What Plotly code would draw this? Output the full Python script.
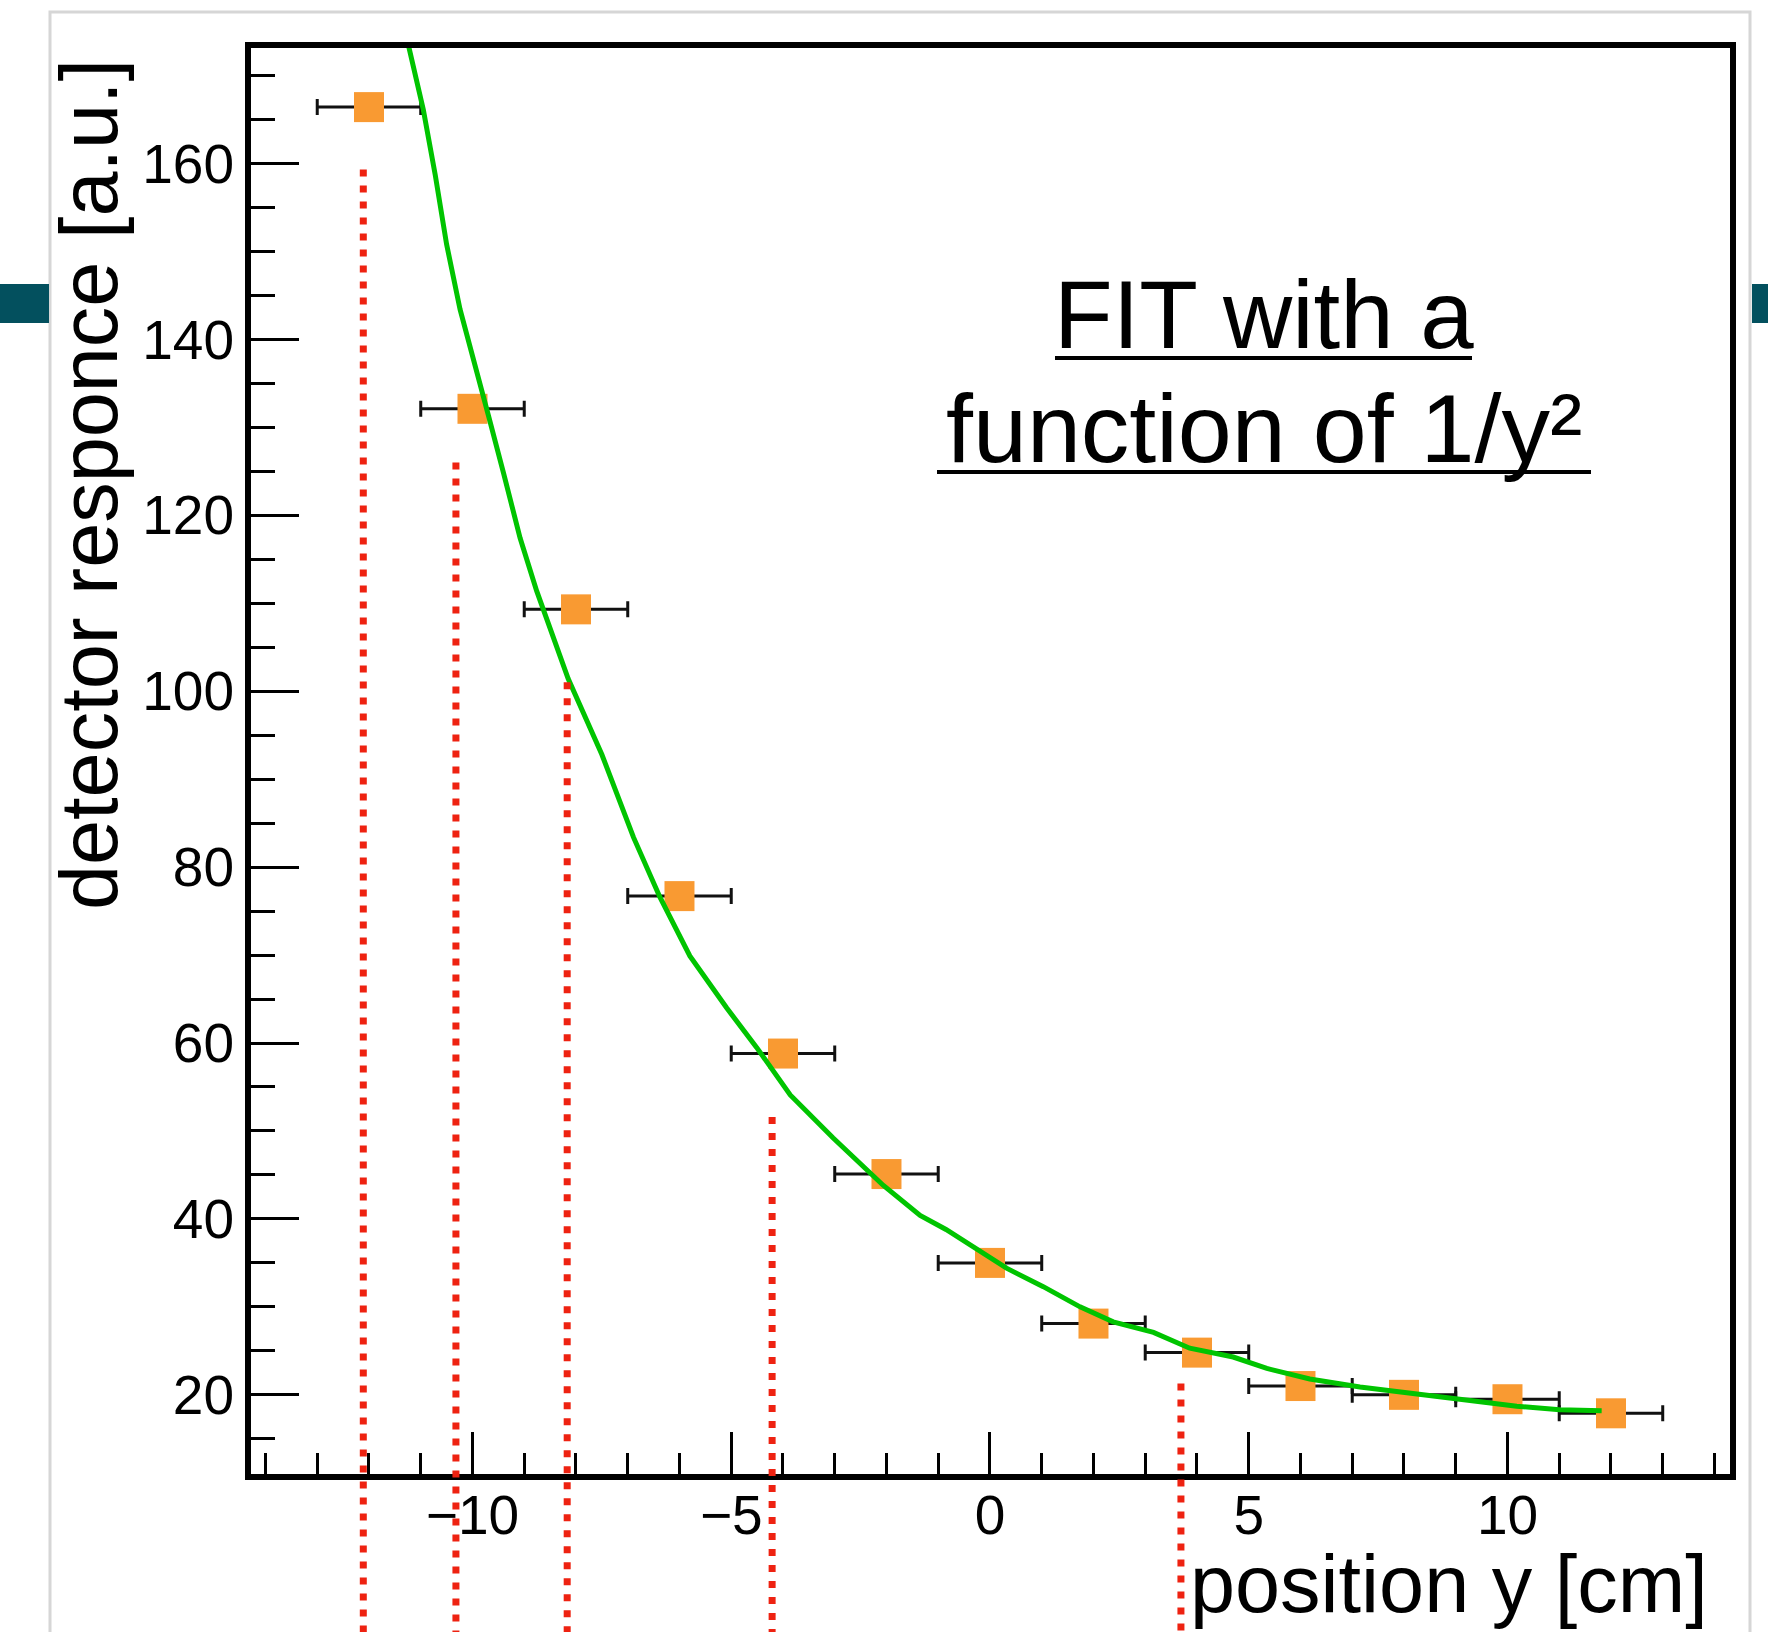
import plotly.graph_objects as go

# ---------------- data ----------------
pos_y = [-12, -10, -8, -6, -4, -2, 0, 2, 4, 6, 8, 10, 12]
response = [166.4, 132.1, 109.3, 76.7, 58.8, 45.1, 35.0, 28.1, 24.8, 21.0, 20.0, 19.5, 17.9]
pos_err = [1.0, 1.0, 1.0, 1.0, 1.0, 1.0, 1.0, 1.0, 1.0, 1.0, 1.0, 1.0, 1.0]

fit_x = [-11.26, -10.95, -10.72, -10.50, -10.24, -9.98, -9.69, -9.40, -9.08, -8.76,
         -8.44, -8.15, -7.50, -6.89, -6.38, -5.80, -5.09, -4.51, -3.86, -3.03,
         -2.06, -1.35, -0.85, -0.32, 0.32, 1.03, 1.74, 2.38, 3.16, 3.86,
         4.70, 5.35, 6.18, 7.15, 8.11, 9.21, 10.18, 11.01, 11.82]
fit_y = [174.0, 166.1, 158.7, 150.8, 143.4, 137.9, 131.3, 124.8, 117.4, 111.4,
         106.3, 101.4, 92.8, 83.4, 76.6, 69.9, 64.0, 59.5, 54.1, 49.2,
         43.8, 40.4, 38.8, 36.8, 34.4, 32.3, 30.0, 28.3, 27.1, 25.3,
         24.3, 23.0, 21.8, 20.9, 20.2, 19.4, 18.7, 18.3, 18.2]

guide_x = [-12.11, -10.32, -8.17, -4.21, 3.69]
guide_top = [159.3, 126.0, 101.0, 51.6, 21.3]

X_RANGE = [-14.28, 14.30]
Y_RANGE = [11.0, 173.12]

# ---------------- layout geometry (pixels) ----------------
W, H = 1768, 1632
PL, PR, PT, PB = 251, 1730, 48, 1474
FONT = "Liberation Sans, Arial, Helvetica, sans-serif"


def px_x(p):
    return (p - PL) / (PR - PL)


def px_y(p):
    return (H - p) / (H - PT)


y_dom0 = (H - PB) / (H - PT)
y_span = Y_RANGE[1] - Y_RANGE[0]
y2_min = Y_RANGE[0] - y_dom0 / (1 - y_dom0) * y_span
Y2_RANGE = [y2_min, Y_RANGE[1]]

fig = go.Figure()

# data points with horizontal error bars
fig.add_trace(go.Scatter(
    x=pos_y, y=response, mode="markers",
    marker=dict(symbol="square", size=30, color="#f99a32", line=dict(width=0)),
    error_x=dict(type="data", array=pos_err, color="#111111", thickness=3, width=8),
    xaxis="x", yaxis="y", showlegend=False, hoverinfo="skip",
))

# fit curve
fig.add_trace(go.Scatter(
    x=fit_x, y=fit_y, mode="lines",
    line=dict(color="#00c400", width=5),
    xaxis="x", yaxis="y", showlegend=False, hoverinfo="skip",
))

# red dotted guide lines (on a full-height overlay axis so they run past the x axis)
gx, gy = [], []
for xv, top in zip(guide_x, guide_top):
    gx += [xv, xv, None]
    gy += [top, Y2_RANGE[0], None]
fig.add_trace(go.Scatter(
    x=gx, y=gy, mode="lines",
    line=dict(color="#ee2211", width=7, dash="7px,9px"),
    xaxis="x", yaxis="y2", showlegend=False, hoverinfo="skip",
))

shapes = [
    # slide card
    dict(type="rect", xref="paper", yref="paper", layer="below",
         x0=px_x(50), x1=px_x(1750), y0=px_y(1650), y1=px_y(12),
         fillcolor="white", line=dict(color="#d6d6d6", width=3)),
    # teal slide bars
    dict(type="rect", xref="paper", yref="paper", layer="below",
         x0=px_x(0), x1=px_x(49), y0=px_y(323), y1=px_y(284),
         fillcolor="#03505e", line=dict(width=0)),
    dict(type="rect", xref="paper", yref="paper", layer="below",
         x0=px_x(1752), x1=px_x(1768), y0=px_y(323), y1=px_y(284),
         fillcolor="#03505e", line=dict(width=0)),
    # underlines of the fit note
    dict(type="line", xref="paper", yref="paper",
         x0=px_x(1055), x1=px_x(1472), y0=px_y(358), y1=px_y(358),
         line=dict(color="black", width=4)),
    dict(type="line", xref="paper", yref="paper",
         x0=px_x(937), x1=px_x(1591), y0=px_y(472), y1=px_y(472),
         line=dict(color="black", width=4)),
]

annotations = [
    dict(text="detector responce [a.u.]", textangle=-90, showarrow=False,
         xref="paper", yref="paper", x=px_x(89), y=px_y(485),
         xanchor="center", yanchor="middle",
         font=dict(family=FONT, size=81, color="black")),
    dict(text="position y [cm]", showarrow=False,
         xref="paper", yref="paper", x=px_x(1710), y=px_y(1584),
         xanchor="right", yanchor="middle",
         font=dict(family=FONT, size=81, color="black")),
    dict(text="FIT with a", showarrow=False,
         xref="paper", yref="paper", x=px_x(1264), y=px_y(314),
         xanchor="center", yanchor="middle",
         font=dict(family=FONT, size=96, color="black")),
    dict(text="function of 1/y²", showarrow=False,
         xref="paper", yref="paper", x=px_x(1264), y=px_y(428),
         xanchor="center", yanchor="middle",
         font=dict(family=FONT, size=97, color="black")),
]

fig.update_layout(
    width=W, height=H,
    margin=dict(l=PL, r=W - PR, t=PT, b=0, pad=0),
    paper_bgcolor="white", plot_bgcolor="rgba(0,0,0,0)",
    shapes=shapes, annotations=annotations,
    xaxis=dict(
        domain=[0, 1], range=X_RANGE, anchor="y",
        tick0=0, dtick=5, ticks="inside", ticklen=42, tickwidth=3, tickcolor="black",
        minor=dict(tick0=0, dtick=1, ticks="inside", ticklen=21, tickwidth=3,
                   tickcolor="black", showgrid=False),
        showline=True, linewidth=6, linecolor="black", mirror=True,
        showgrid=False, zeroline=False,
        ticklabelstandoff=-12,
        tickfont=dict(family=FONT, size=55, color="black"),
    ),
    yaxis=dict(
        domain=[y_dom0, 1], range=Y_RANGE, anchor="x",
        tick0=0, dtick=20, ticks="inside", ticklen=48, tickwidth=3, tickcolor="black",
        minor=dict(tick0=0, dtick=5, ticks="inside", ticklen=24, tickwidth=3,
                   tickcolor="black", showgrid=False),
        showline=True, linewidth=6, linecolor="black", mirror=True,
        showgrid=False, zeroline=False,
        tickfont=dict(family=FONT, size=55, color="black"),
    ),
    yaxis2=dict(
        domain=[0, 1], range=Y2_RANGE, anchor="x", visible=False,
        showgrid=False, zeroline=False,
    ),
)

fig.write_html(
    "out.html",
    config={"displayModeBar": False},
    post_script="document.body.style.margin='0';document.body.style.overflow='hidden';",
)
